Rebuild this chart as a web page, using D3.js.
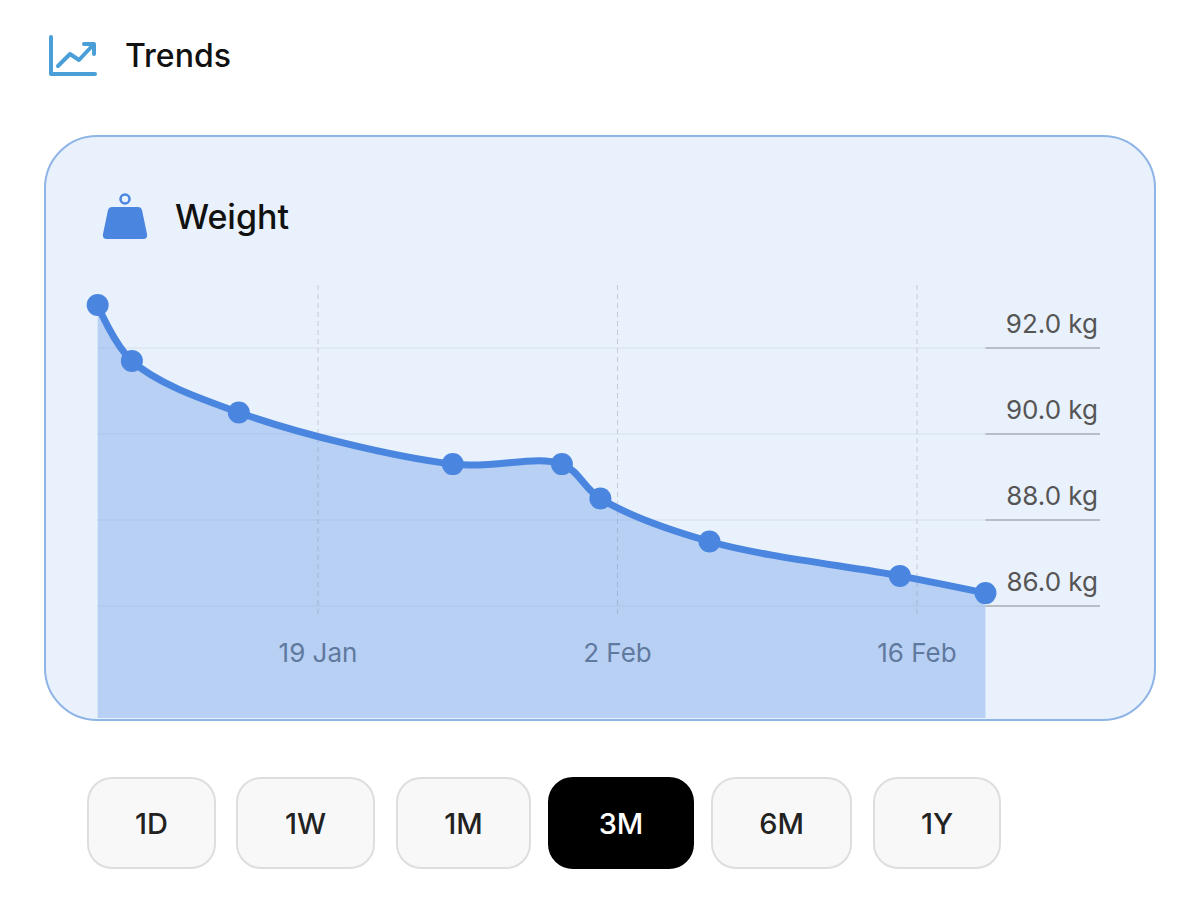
<!DOCTYPE html>
<html><head><meta charset="utf-8">
<script src="https://cdn.jsdelivr.net/npm/d3@7"></script>
<style>body{margin:0;background:#fff;font-family:Inter,"Open Sans",sans-serif;}</style>
</head><body><svg id="c" width="1200" height="907"></svg>
<script>
// weight readings (day offset from 1 Jan, kg)
var days = [8.7, 10.3, 15.3, 25.3, 30.4, 32.2, 37.3, 46.2, 50.2];
var weights = [93.0, 91.7, 90.5, 89.3, 89.3, 88.5, 87.5, 86.7, 86.3];
var yTicks = [86, 88, 90, 92];
var xTickDays = [19, 33, 47];
var xTickLabels = ["19 Jan", "2 Feb", "16 Feb"];
var ranges = ["1D", "1W", "1M", "3M", "6M", "1Y"];
var activeRange = "3M";

var svg = d3.select("#c");
var x = d3.scaleLinear().domain([19, 47]).range([318, 917]);
var y = d3.scaleLinear().domain([86, 92]).range([606, 348]);

// header
var ic = svg.append("g").attr("fill","none").attr("stroke","#4a9fd8").attr("stroke-width",4)
    .attr("stroke-linecap","round").attr("stroke-linejoin","round");
ic.append("path").attr("d","M51 37 V74 H95");
ic.append("path").attr("d","M58 66 L70 54 L79 60 L93 45");
ic.append("path").attr("d","M84 44 H94 V54");
svg.append("text").attr("x",125).attr("y",67).text("Trends")
    .attr("font-size",32).attr("font-weight",500).attr("fill","#111");

// card
svg.append("rect").attr("x",45).attr("y",136).attr("width",1110).attr("height",584)
    .attr("rx",52).attr("fill","#e9f1fc").attr("stroke","#8fb4e6").attr("stroke-width",2);

// weight icon
svg.append("circle").attr("cx",125).attr("cy",199).attr("r",4.5).attr("fill","none").attr("stroke","#4a86df").attr("stroke-width",2.5);
svg.append("path").attr("d","M112 207 H138 Q141 207 142 210 L147 234 Q148 239 143 239 H107 Q102 239 103 234 L108 210 Q109 207 112 207 Z").attr("fill","#4a86df");
svg.append("text").attr("x",175).attr("y",229).text("Weight")
    .attr("font-size",34).attr("font-weight",500).attr("fill","#111");

// grid
var x0 = x(days[0]), x1 = x(days[days.length-1]);
svg.selectAll(".hg").data(yTicks).enter().append("line")
    .attr("x1",x0).attr("x2",x1).attr("y1",d=>y(d)).attr("y2",d=>y(d))
    .attr("stroke","#d6e0ee").attr("stroke-width",1);
svg.selectAll(".hs").data(yTicks).enter().append("line")
    .attr("x1",x1).attr("x2",1100).attr("y1",d=>y(d)).attr("y2",d=>y(d))
    .attr("stroke","#a8adb5").attr("stroke-width",1.5);
svg.selectAll(".yl").data(yTicks).enter().append("text")
    .attr("x",1098).attr("y",d=>y(d)-15).attr("text-anchor","end")
    .attr("font-size",26).attr("fill","#555").text(d=>d.toFixed(1)+" kg");
svg.selectAll(".vg").data(xTickDays).enter().append("line")
    .attr("x1",d=>x(d)).attr("x2",d=>x(d)).attr("y1",285).attr("y2",618)
    .attr("stroke","#c5ccd6").attr("stroke-dasharray","5,4");
svg.selectAll(".xl").data(xTickDays).enter().append("text")
    .attr("x",d=>x(d)).attr("y",662).attr("text-anchor","middle")
    .attr("font-size",26).attr("fill","#6b7585").text((d,i)=>xTickLabels[i]);

// area + line
var pts = days.map((d,i)=>[x(d), y(weights[i])]);
var curve = d3.curveCatmullRom.alpha(0.5);
var area = d3.area().x(d=>d[0]).y1(d=>d[1]).y0(718).curve(curve);
svg.append("path").datum(pts).attr("d",area).attr("fill","#4a86df").attr("fill-opacity",0.3);
var line = d3.line().x(d=>d[0]).y(d=>d[1]).curve(curve);
svg.append("path").datum(pts).attr("d",line).attr("fill","none")
    .attr("stroke","#4a86df").attr("stroke-width",7).attr("stroke-linecap","round");
svg.selectAll(".pt").data(pts).enter().append("circle")
    .attr("cx",d=>d[0]).attr("cy",d=>d[1]).attr("r",11).attr("fill","#4a86df");

// range buttons
var bx = [88, 237, 397, 549, 712, 874], bw = [127, 137, 133, 144, 139, 126];
var b = svg.selectAll(".b").data(ranges).enter().append("g");
b.append("rect").attr("x",(d,i)=>bx[i]).attr("y",778).attr("width",(d,i)=>bw[i]).attr("height",90)
    .attr("rx",24).attr("fill",d=>d==activeRange?"#000":"#f8f8f8")
    .attr("stroke",d=>d==activeRange?"#000":"#dedede").attr("stroke-width",2);
b.append("text").attr("x",(d,i)=>bx[i]+bw[i]/2).attr("y",834).attr("text-anchor","middle")
    .attr("font-size",29).attr("font-weight",500)
    .attr("fill",d=>d==activeRange?"#fff":"#222").text(d=>d);
</script></body></html>
